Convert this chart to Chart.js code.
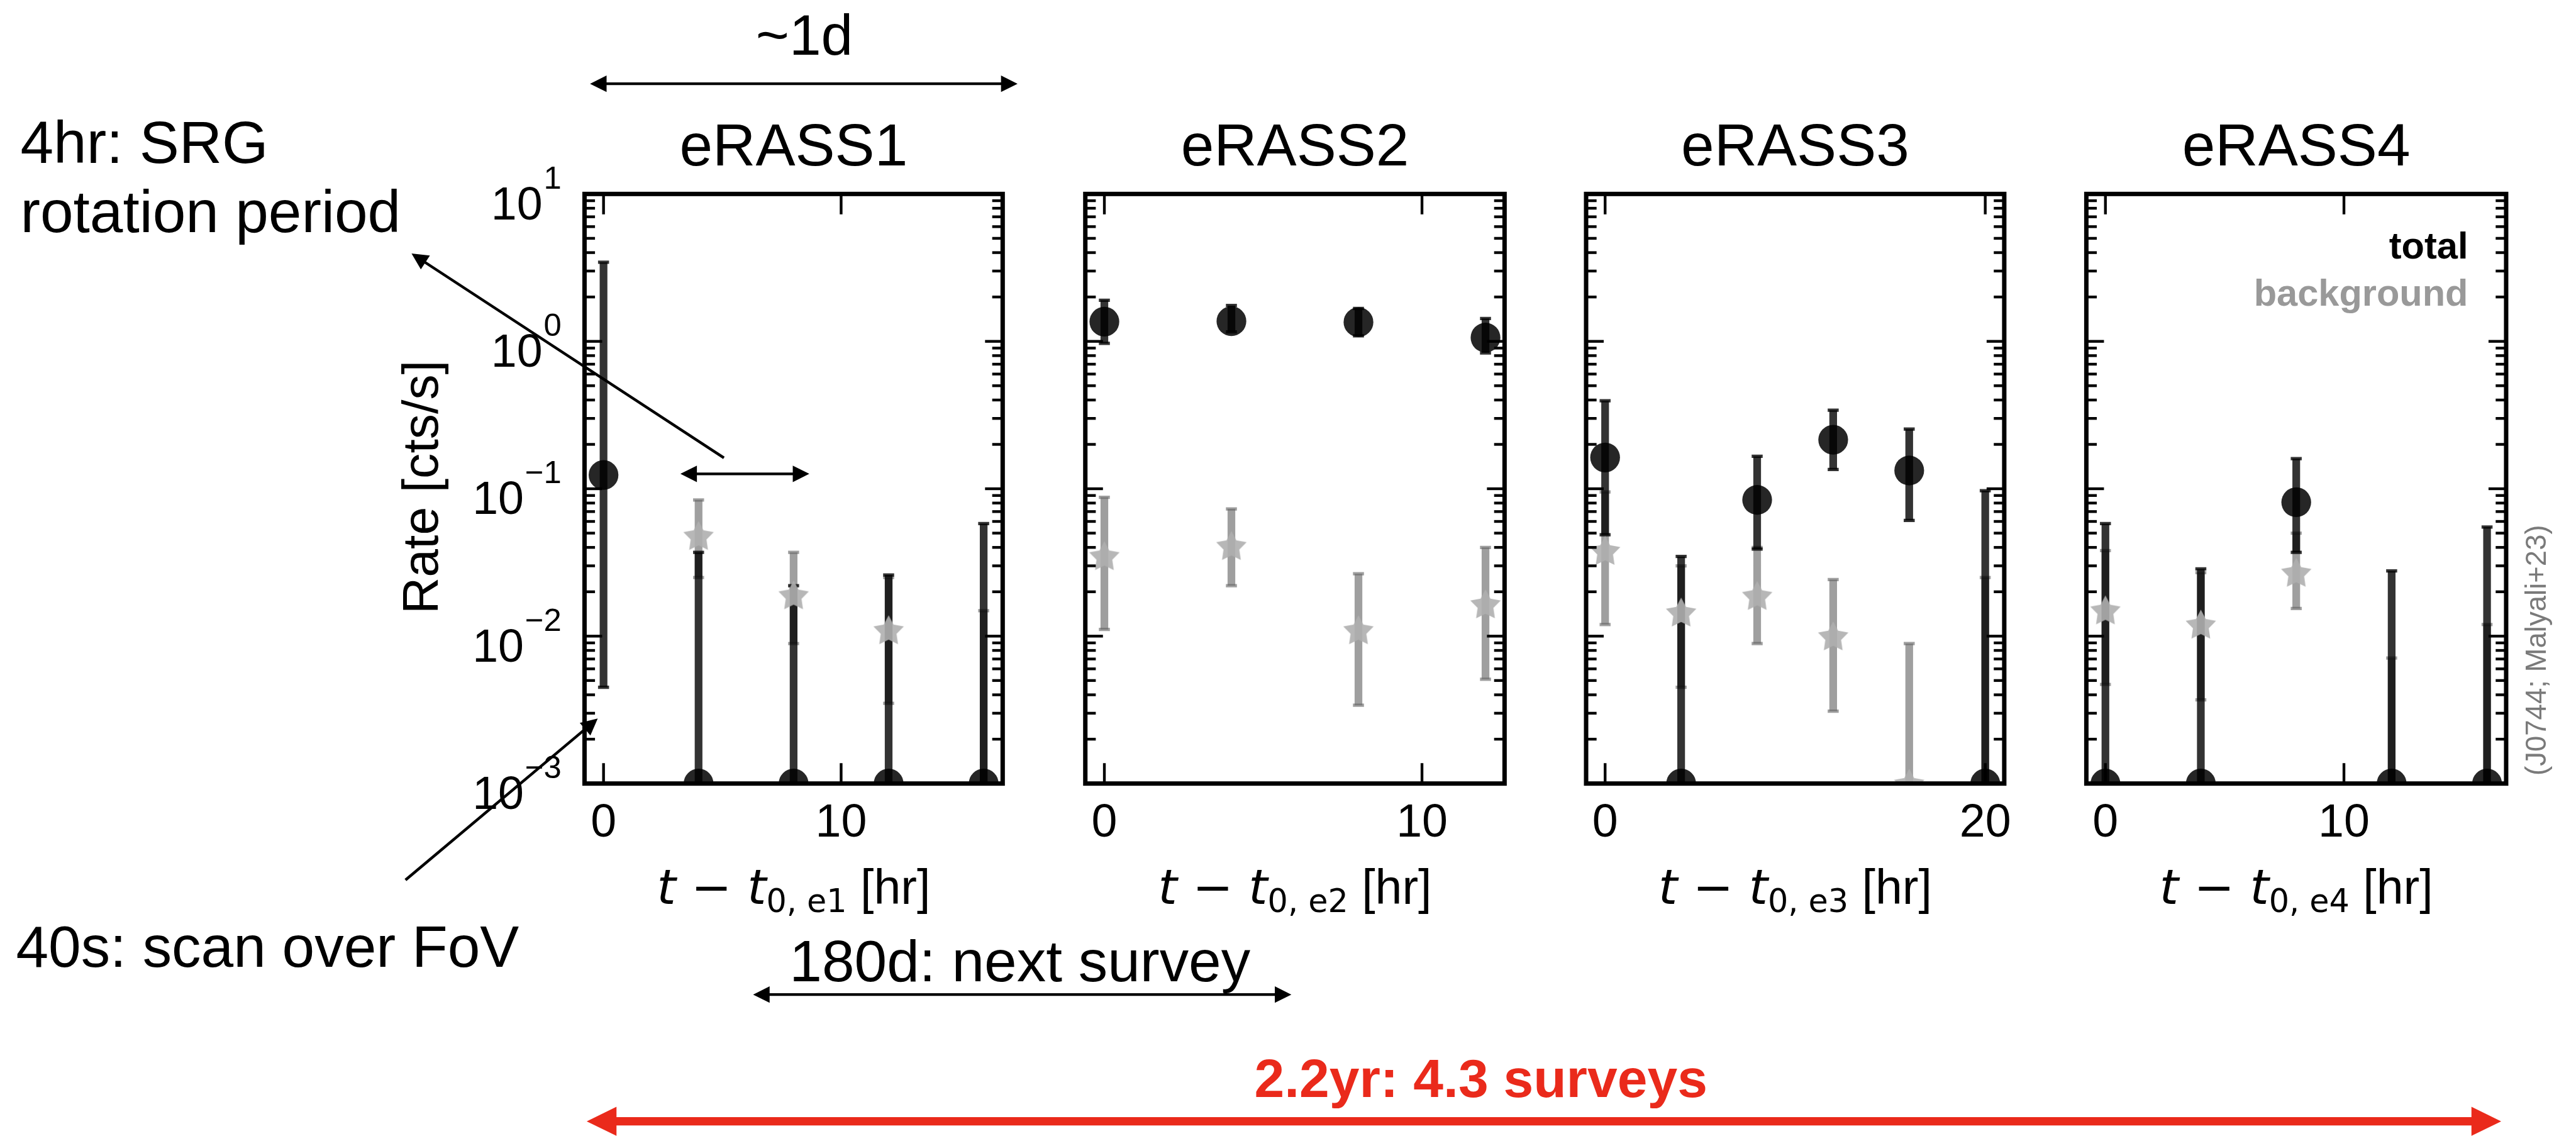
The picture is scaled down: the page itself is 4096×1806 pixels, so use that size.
<!DOCTYPE html>
<html>
<head>
<meta charset="utf-8">
<title>eRASS light curves</title>
<script src="https://cdn.jsdelivr.net/npm/chart.js@4.4.1/dist/chart.umd.min.js"></script>
<style>
    html, body { margin: 0; padding: 0; background: #fff; }
    #stage { position: relative; width: 4096px; height: 1806px; overflow: hidden; background: #fff; }
    #stage canvas { position: absolute; left: 0; top: 0; }
</style>
</head>
<body>
<div id="stage"></div>
<script>
// ---- data ----
const surveys = ['eRASS1', 'eRASS2', 'eRASS3', 'eRASS4'];
const subLabels = ['e1', 'e2', 'e3', 'e4'];
const hours = [[0, 4, 8, 12, 16], [0, 4, 8, 12], [0, 4, 8, 12, 16, 20], [0, 4, 8, 12, 16]];

// total rate [cts/s] and its error bar limits (0.001 = sits on the floor)
const totalRate = [
    [0.124, 0.001, 0.001, 0.001, 0.001],
    [1.36, 1.37, 1.35, 1.06],
    [0.163, 0.001, 0.084, 0.215, 0.133, 0.001],
    [0.001, 0.001, 0.081, 0.001, 0.001]
];
const totalLow = [
    [0.0045, 1e-4, 1e-4, 1e-4, 1e-4],
    [0.97, 1.16, 1.09, 0.835],
    [0.0487, 1e-4, 0.039, 0.135, 0.061, 1e-4],
    [1e-4, 1e-4, 0.037, 1e-4, 1e-4]
];
const totalHigh = [
    [3.44, 0.037, 0.022, 0.026, 0.058],
    [1.9, 1.75, 1.67, 1.43],
    [0.395, 0.0347, 0.166, 0.341, 0.254, 0.097],
    [0.058, 0.0286, 0.16, 0.0277, 0.055]
];

// background rate and its error bar limits (null = no bar)
const bgRate = [
    [0.0008, 0.048, 0.019, 0.011, 0.0008],
    [0.035, 0.041, 0.011, 0.0165],
    [0.038, 0.0145, 0.0188, 0.0100, 0.001, 0.0008],
    [0.015, 0.012, 0.027, 0.0008, 0.0008]
];
const bgLow = [
    [null, 0.025, 0.0089, 0.0035, 1e-4],
    [0.0111, 0.022, 0.0034, 0.0051],
    [0.012, 0.0045, 0.0089, 0.0031, 1e-4, 1e-4],
    [0.0047, 0.0037, 0.0154, 1e-4, 1e-4]
];
const bgHigh = [
    [null, 0.084, 0.037, 0.025, 0.0149],
    [0.0875, 0.073, 0.0265, 0.040],
    [0.095, 0.03, 0.04, 0.0242, 0.0089, 0.025],
    [0.038, 0.027, 0.050, 0.0071, 0.012]
];

const xMin = [-0.8, -0.6, -1, -0.8];
const xMax = [16.8, 12.6, 21, 16.8];
const xTicks = [[0, 10], [0, 10], [0, 20], [0, 10]];
const yTicks = [1e-3, 1e-2, 1e-1, 1, 10];

// ---- layout (reference pixels, scaled by K) ----
const K = 0.876;
const W = 4096, H = 1806;
const s = v => v * K;
const panelLeft = [1061, 1970, 2879, 3787];
const panelRight = [1820, 2731, 3638, 4549];
const panelTop = 352, panelBottom = 1422;

const SANS = '"Liberation Sans", Arial, Helvetica, sans-serif';
const MATH = '"DejaVu Sans", sans-serif';
const RED = '#ea2a1b';
const TOTAL_BAR = 'rgba(0,0,0,0.8)';
const BG_BAR = 'rgba(100,100,100,0.62)';

Chart.defaults.font.family = SANS;

// filled star marker (like matplotlib '*')
function starImage(r, color) {
    const c = document.createElement('canvas');
    const size = Math.ceil(r * 2 + 4);
    c.width = c.height = size;
    const g = c.getContext('2d');
    g.fillStyle = color;
    g.beginPath();
    for (let k = 0; k < 10; k++) {
        const rr = k % 2 ? r * 0.52 : r;
        const a = -Math.PI / 2 + k * Math.PI / 5;
        const px = size / 2 + rr * Math.cos(a);
        const py = size / 2 + 2 + rr * Math.sin(a);
        if (k === 0) g.moveTo(px, py); else g.lineTo(px, py);
    }
    g.closePath();
    g.fill();
    return c;
}
const star = starImage(s(29), 'rgba(175,175,175,0.9)');

function line(ctx, x1, y1, x2, y2) {
    ctx.beginPath();
    ctx.moveTo(x1, y1);
    ctx.lineTo(x2, y2);
    ctx.stroke();
}

function arrow(ctx, x1, y1, x2, y2, opt) {
    const ang = Math.atan2(y2 - y1, x2 - x1);
    const c = Math.cos(ang), sn = Math.sin(ang);
    const hl = opt.headLen, hw = opt.headW;
    ctx.strokeStyle = opt.color;
    ctx.fillStyle = opt.color;
    ctx.lineWidth = opt.width;
    const sx = opt.both ? x1 + c * hl * 0.8 : x1;
    const sy = opt.both ? y1 + sn * hl * 0.8 : y1;
    line(ctx, sx, sy, x2 - c * hl * 0.8, y2 - sn * hl * 0.8);
    const head = (x, y, cc, ss) => {
        ctx.beginPath();
        ctx.moveTo(x, y);
        ctx.lineTo(x - hl * cc + hw / 2 * ss, y - hl * ss - hw / 2 * cc);
        ctx.lineTo(x - hl * cc - hw / 2 * ss, y - hl * ss + hw / 2 * cc);
        ctx.closePath();
        ctx.fill();
    };
    head(x2, y2, c, sn);
    if (opt.both) head(x1, y1, -c, -sn);
}

function text(ctx, str, x, y, font, align, color) {
    ctx.font = font;
    ctx.textAlign = align || 'left';
    ctx.textBaseline = 'alphabetic';
    ctx.fillStyle = color || '#000';
    ctx.fillText(str, s(x), s(y));
}

// x axis label: t - t_{0,eN} [hr]
function axisLabel(ctx, cx, base, sub) {
    const main = s(88), small = s(58);
    const parts = [
        {t: 't', f: `italic ${main}px ${MATH}`, dy: 0},
        {t: ' \u2212 ', f: `${main}px ${MATH}`, dy: 0},
        {t: 't', f: `italic ${main}px ${MATH}`, dy: 0},
        {t: '0, ' + sub, f: `${small}px ${MATH}`, dy: s(15)},
        {t: ' [hr]', f: `${main}px ${SANS}`, dy: 0}
    ];
    let total = 0;
    parts.forEach(p => { ctx.font = p.f; p.w = ctx.measureText(p.t).width; total += p.w; });
    let x0 = cx - total / 2;
    ctx.textAlign = 'left';
    ctx.textBaseline = 'alphabetic';
    ctx.fillStyle = '#000';
    parts.forEach(p => { ctx.font = p.f; ctx.fillText(p.t, x0, base + p.dy); x0 += p.w; });
}

// frame, ticks and labels for one panel, placed from the chart's own scales
function framePlugin(idx) {
    return {
        id: 'frame' + idx,
        afterDatasetsDraw(chart) {
            const {ctx, chartArea: a, scales: {x, y}} = chart;
            ctx.save();
            ctx.strokeStyle = '#000';
            ctx.lineWidth = s(5);
            for (let e = -3; e <= 1; e++) {
                for (let m = 1; m <= 9; m++) {
                    const v = m * Math.pow(10, e);
                    if (v > 10.0001) break;
                    const py = y.getPixelForValue(v);
                    const len = m === 1 ? s(32) : s(19);
                    line(ctx, a.left, py, a.left + len, py);
                    line(ctx, a.right, py, a.right - len, py);
                }
            }
            xTicks[idx].forEach(t => {
                const px = x.getPixelForValue(t);
                line(ctx, px, a.bottom, px, a.bottom - s(37));
                line(ctx, px, a.top, px, a.top + s(37));
            });
            ctx.lineWidth = s(8);
            ctx.strokeRect(a.left, a.top, a.right - a.left, a.bottom - a.top);

            // title
            ctx.fillStyle = '#000';
            ctx.font = `${s(108)}px ${SANS}`;
            ctx.textAlign = 'center';
            ctx.textBaseline = 'alphabetic';
            ctx.fillText(surveys[idx], (a.left + a.right) / 2, s(300));

            // x tick labels
            ctx.font = `${s(84)}px ${SANS}`;
            xTicks[idx].forEach(t => ctx.fillText(String(t), x.getPixelForValue(t), s(1518)));

            axisLabel(ctx, (a.left + a.right) / 2, s(1640), subLabels[idx]);

            if (idx === 0) {
                // y tick labels 10^n
                yTicks.forEach(v => {
                    const py = y.getPixelForValue(v);
                    const expo = String(Math.round(Math.log10(v))).replace('-', '\u2212');
                    const ex = a.left - s(42);
                    ctx.textAlign = 'right';
                    ctx.font = `${s(58)}px ${SANS}`;
                    ctx.fillText(expo, ex, py - s(10));
                    const ew = ctx.measureText(expo).width;
                    ctx.font = `${s(84)}px ${SANS}`;
                    ctx.fillText('10', ex - ew - s(2), py + s(46));
                });
                // y axis title
                ctx.save();
                ctx.translate(s(795), s(884));
                ctx.rotate(-Math.PI / 2);
                ctx.font = `${s(92)}px ${SANS}`;
                ctx.textAlign = 'center';
                ctx.fillText('Rate [cts/s]', 0, 0);
                ctx.restore();
            }
            if (idx === 3) {
                text(ctx, 'total', 4480, 469, `bold ${s(68)}px ${SANS}`, 'right', '#000');
                text(ctx, 'background', 4480, 555, `bold ${s(68)}px ${SANS}`, 'right', '#999999');
                ctx.save();
                ctx.translate(s(4621), s(1180));
                ctx.rotate(-Math.PI / 2);
                ctx.font = `${s(52)}px ${SANS}`;
                ctx.fillStyle = '#7a7a7a';
                ctx.textAlign = 'center';
                ctx.fillText('(J0744; Malyali+23)', 0, 0);
                ctx.restore();
            }
            ctx.restore();
        }
    };
}

// annotations around the panels (arrows and notes)
const notesPlugin = {
    id: 'notes',
    afterDraw(chart) {
        const ctx = chart.ctx;
        ctx.save();
        const big = `${s(106)}px ${SANS}`;
        text(ctx, '~1d', 1460, 99, `${s(104)}px ${SANS}`, 'center');
        text(ctx, '4hr: SRG', 37, 296, `${s(108)}px ${SANS}`);
        text(ctx, 'rotation period', 37, 421, `${s(108)}px ${SANS}`);
        text(ctx, '40s: scan over FoV', 29, 1755, big);
        text(ctx, '180d: next survey', 1433, 1781, big);
        text(ctx, '2.2yr: 4.3 surveys', 2688, 1991, `bold ${s(98)}px ${SANS}`, 'center', RED);

        const black = {color: '#000', width: s(5), headLen: s(30), headW: s(30)};
        arrow(ctx, s(1071), s(152), s(1847), s(152), {...black, both: true});
        arrow(ctx, s(1314), s(831), s(747), s(460), black);
        arrow(ctx, s(1235), s(860), s(1469), s(860), {...black, both: true});
        arrow(ctx, s(736), s(1597), s(1085), s(1304), black);
        arrow(ctx, s(1367), s(1805), s(2344), s(1805), {...black, both: true});
        arrow(ctx, s(1065), s(2035), s(4540), s(2035),
            {color: RED, width: s(15), headLen: s(54), headW: s(53), both: true});
        ctx.restore();
    }
};

function barPoints(idx, lo, hi) {
    const pts = [];
    hours[idx].forEach((h, j) => {
        if (lo[idx][j] == null) return;
        pts.push({x: h, y: lo[idx][j]}, {x: h, y: hi[idx][j]}, {x: h, y: null});
    });
    return pts;
}

function makeChart(idx) {
    const canvas = document.createElement('canvas');
    canvas.width = W;
    canvas.height = H;
    document.getElementById('stage').appendChild(canvas);

    const barStyle = color => ({
        type: 'line',
        borderColor: color,
        borderWidth: s(14),
        borderCapStyle: 'butt',
        pointStyle: 'line',
        pointRadius: s(10),
        pointBorderWidth: s(6),
        pointBorderColor: color,
        spanGaps: false,
        fill: false,
        clip: 0
    });

    return new Chart(canvas, {
        type: 'scatter',
        data: {
            datasets: [
                {...barStyle(BG_BAR), label: 'background err', data: barPoints(idx, bgLow, bgHigh), order: 4},
                {...barStyle(TOTAL_BAR), label: 'total err', data: barPoints(idx, totalLow, totalHigh), order: 3},
                {
                    type: 'scatter', label: 'total',
                    data: hours[idx].map((h, j) => ({x: h, y: totalRate[idx][j]})),
                    pointStyle: 'circle', pointRadius: s(27),
                    backgroundColor: 'rgba(0,0,0,0.85)', pointBorderWidth: 0, borderWidth: 0,
                    clip: 0, order: 2
                },
                {
                    type: 'scatter', label: 'background',
                    data: hours[idx].map((h, j) => ({x: h, y: bgRate[idx][j]})),
                    pointStyle: star, clip: 0, order: 1
                }
            ]
        },
        options: {
            responsive: false,
            animation: false,
            devicePixelRatio: 1,
            events: [],
            layout: {
                padding: {
                    left: s(panelLeft[idx]),
                    right: W - s(panelRight[idx]),
                    top: s(panelTop),
                    bottom: H - s(panelBottom)
                }
            },
            plugins: {
                legend: {display: false},
                tooltip: {enabled: false},
                title: {display: false}
            },
            scales: {
                x: {type: 'linear', display: false, min: xMin[idx], max: xMax[idx]},
                y: {type: 'logarithmic', display: false, min: 1e-3, max: 10}
            }
        },
        plugins: idx === 0 ? [framePlugin(idx), notesPlugin] : [framePlugin(idx)]
    });
}

surveys.forEach((_, i) => makeChart(i));
</script>
</body>
</html>
